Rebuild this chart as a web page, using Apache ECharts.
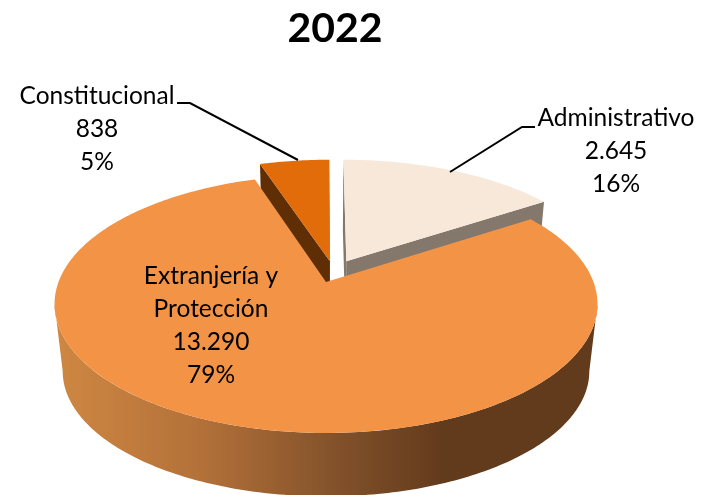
<!DOCTYPE html>
<html>
<head>
<meta charset="utf-8">
<style>html,body{margin:0;padding:0;background:#fff}#c{width:713px;height:495px}</style>
<script src="https://cdn.jsdelivr.net/npm/echarts@6/dist/echarts.min.js"></script>
</head>
<body>
<div id="c"></div>
<script>
const chartTitle = '2022';
const categories = ['Administrativo', 'Extranjería y\nProtección', 'Constitucional'];
const displayValues = ['2.645', '13.290', '838'];
const displayPercents = ['16%', '79%', '5%'];
const values = [2645, 13290, 838];

const topColors = ['#f8e8da', '#f39345', '#e26b0a'];
const wallColors = ['#84786d', '#84786d', '#5f2e05'];
const explodeX = [0.078, 0, 0.015];
const explodeY = [0.17, 0, 0.17];
const labelX = [616, 211, 97];
const labelY = [118, 276, 96];
const leaders = [
  [[535, 127], [522, 127], [450, 172]],
  null,
  [[177, 103], [190, 103], [298, 160]]
];

const FONT = 'Lato, Carlito, sans-serif';
const CX = 326, CY = 282, A = 267.5, B = 125.3, K = 0.17, DEPTH = 68, BOTTOM = 0.97;
const total = values.reduce((a, b) => a + b, 0);
const RIGHT_EDGE = Math.acos(-K);
const LEFT_EDGE = Math.PI * 2 - RIGHT_EDGE;

function project(X, Y, low) {
  const p = 1 / (1 + K * Y);
  const s = low ? BOTTOM : 1;
  return [CX + A * X * p * s, CY - B * Y * p * s + (low ? DEPTH : 0)];
}
function rim(th, i, low) {
  return project(Math.sin(th) + explodeX[i], Math.cos(th) + explodeY[i], low);
}
function arc(a0, a1, i, low) {
  const n = Math.max(4, Math.round(Math.abs(a1 - a0) * 60));
  const pts = [];
  for (let j = 0; j <= n; j++) pts.push(rim(a0 + (a1 - a0) * j / n, i, low));
  return pts;
}
function apex(i, low) { return project(explodeX[i], explodeY[i], low); }

const sideGradient = {
  type: 'linear', global: true, x: 55, y: 0, x2: 597, y2: 0,
  colorStops: [
    { offset: 0, color: '#cf8742' },
    { offset: 0.27, color: '#b37139' },
    { offset: 0.53, color: '#80502a' },
    { offset: 0.72, color: '#623a1c' },
    { offset: 1, color: '#623a1c' }
  ]
};

function poly(points, fill, z2) {
  return { type: 'polygon', z2, silent: true, shape: { points }, style: { fill, stroke: null } };
}

function renderItem(params, api) {
  const i = params.dataIndex;
  let before = 0;
  for (let j = 0; j < i; j++) before += values[j];
  const a0 = before / total * Math.PI * 2;
  const a1 = (before + api.value(0)) / total * Math.PI * 2;
  const base = i === 1 ? 10 : 0;
  const children = [];
  const wall = i === 1 ? sideGradient : wallColors[i];

  const lo = Math.max(a0, RIGHT_EDGE), hi = Math.min(a1, LEFT_EDGE);
  if (lo < hi) {
    children.push(poly(arc(lo, hi, i, false).concat(arc(hi, lo, i, true)), wall, base + 1));
  }
  if (i !== 1) {
    [a0, a1].forEach((t) => {
      children.push(poly([apex(i, false), rim(t, i, false), rim(t, i, true), apex(i, true)], wall, base + 1));
    });
  }
  children.push(poly([apex(i, false)].concat(arc(a0, a1, i, false)), topColors[i], base + 2));

  const lines = [categories[i], displayValues[i], displayPercents[i]].join('\n').split('\n');
  lines.forEach((t, k) => {
    children.push({
      type: 'text', z2: 30, silent: true,
      style: {
        text: t, x: labelX[i], y: labelY[i] + k * 33,
        fill: '#000', font: '400 24.5px ' + FONT,
        textAlign: 'center', textVerticalAlign: 'middle'
      }
    });
  });
  if (leaders[i]) {
    children.push({
      type: 'polyline', z2: 30, silent: true,
      shape: { points: leaders[i] },
      style: { stroke: '#000', lineWidth: 2, fill: null }
    });
  }
  return { type: 'group', children };
}

const chart = echarts.init(document.getElementById('c'), null, { renderer: 'canvas' });
chart.setOption({
  animation: false,
  backgroundColor: '#fff',
  title: {
    text: chartTitle, left: 330, top: 3, textAlign: 'center',
    textStyle: { fontFamily: FONT, fontWeight: 'bold', fontSize: 41, color: '#000' }
  },
  series: [{
    type: 'custom',
    coordinateSystem: 'none',
    silent: true,
    renderItem,
    data: values.map((v) => [v])
  }]
});
</script>
</body>
</html>
